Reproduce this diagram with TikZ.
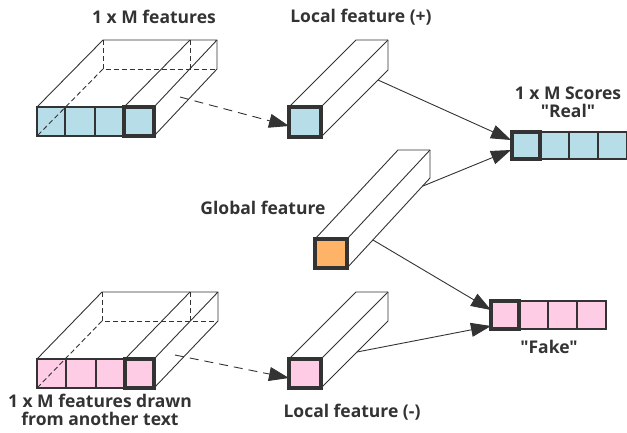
\documentclass[tikz,border=0pt]{standalone}
\usepackage{fontspec}
\setmainfont{Open Sans}
\newfontfamily\lblfont{Open Sans}
\usetikzlibrary{arrows.meta}
\definecolor{ln}{HTML}{333333}
\definecolor{bluef}{HTML}{B7DDE8}
\definecolor{pinkf}{HTML}{FFCCE6}
\definecolor{orangef}{HTML}{FFB366}
\tikzset{
  thinln/.style={draw=ln, line width=0.9pt, line join=round},
  hidden/.style={draw=ln, line width=0.9pt, dash pattern=on 5pt off 3pt},
  cell/.style={draw=ln, line width=1.1pt, inner sep=0pt, outer sep=0pt, minimum width=#1, minimum height=28pt, anchor=north west},
  cellhi/.style={draw=ln, line width=3.2pt, inner sep=0pt, outer sep=0pt, minimum width=#1, minimum height=28pt, anchor=north west},
  lbl/.style={text=ln, font=\lblfont\bfseries\fontsize{17.5}{18}\selectfont, align=center, inner sep=0pt},
  arr/.style={draw=ln, line width=0.9pt, -{Triangle[length=20pt,width=14pt]}},
  darr/.style={draw=ln, line width=0.9pt, dash pattern=on 9pt off 6pt, -{Triangle[length=20pt,width=14pt]}},
}
\begin{document}
\begin{tikzpicture}[x=1pt,y=-1pt]
\useasboundingbox (0,0) rectangle (627,432);

% ---------- top-left block: 1 x M features ----------
\draw[hidden] (103,40) -- (103,69) -- (217,69);
\draw[hidden] (190,40) -- (190,69);
\draw[thinln] (37,107) -- (103,40) -- (217,40) -- (154,107);
\draw[thinln] (124,107) -- (190,40);
\draw[thinln] (154,136) -- (217,69) -- (217,40);
\node[cell=28pt, fill=bluef, minimum height=29pt] (ta) at (37,107) {};
\node[cell=30pt, fill=bluef, minimum height=29pt] (tb) at (65,107) {};
\node[cell=29pt, fill=bluef, minimum height=29pt] (tc) at (95,107) {};
\node[cellhi=30pt, fill=bluef, minimum height=29pt] (td) at (124,107) {};
\draw[hidden] (103,69) -- (37,136);
\coordinate (tsrc) at (180,97);

% ---------- bottom-left block ----------
\draw[hidden] (102,292) -- (102,321) -- (218,321);
\draw[hidden] (190,292) -- (190,321);
\draw[thinln] (37,359) -- (102,292) -- (218,292) -- (154,359);
\draw[thinln] (125,359) -- (190,292);
\draw[thinln] (154,388) -- (218,321) -- (218,292);
\node[cell=29pt, fill=pinkf, minimum height=29pt] (ba) at (37,359) {};
\node[cell=30pt, fill=pinkf, minimum height=29pt] (bb) at (66,359) {};
\node[cell=29pt, fill=pinkf, minimum height=29pt] (bc) at (96,359) {};
\node[cellhi=29pt, fill=pinkf, minimum height=29pt] (bd) at (125,359) {};
\draw[hidden] (102,321) -- (37,388);
\coordinate (bsrc) at (175,355);

% ---------- local feature (+) ----------
\draw[thinln] (289,107) -- (356,40) -- (388,40) -- (388,70) -- (321,137);
\draw[thinln] (321,107) -- (388,40);
\node[cellhi=32pt, fill=bluef, minimum height=30pt] (lp) at (289,107) {};
\coordinate (lpin) at (289,126);
\coordinate (lpout) at (378,80);

% ---------- local feature (-) ----------
\draw[thinln] (289,359) -- (356,292) -- (388,292) -- (388,321) -- (321,388);
\draw[thinln] (321,359) -- (388,292);
\node[cellhi=32pt, fill=pinkf, minimum height=29pt] (lm) at (289,359) {};
\coordinate (lmin) at (289,378);
\coordinate (lmout) at (357,352);

% ---------- global feature ----------
\draw[thinln] (315,239) -- (398,150) -- (430,150) -- (430,178) -- (347,268);
\draw[thinln] (347,239) -- (430,150);
\node[cellhi=32pt, fill=orangef, minimum height=29pt] (gf) at (315,239) {};
\coordinate (gout1) at (423,186);
\coordinate (gout2) at (373,240);

% ---------- score bars ----------
\node[cell=29pt, fill=bluef, minimum height=27pt] (r2) at (540,132) {};
\node[cell=29pt, fill=bluef, minimum height=27pt] (r3) at (569,132) {};
\node[cell=29pt, fill=bluef, minimum height=27pt] (r4) at (598,132) {};
\node[cellhi=28pt, fill=bluef, minimum height=27pt] (r1) at (512,132) {};
\coordinate (rin1) at (511,140);
\coordinate (rin2) at (511,150);

\node[cell=29pt, fill=pinkf, minimum height=28pt] (f2) at (519,301) {};
\node[cell=29pt, fill=pinkf, minimum height=28pt] (f3) at (548,301) {};
\node[cell=29pt, fill=pinkf, minimum height=28pt] (f4) at (577,301) {};
\node[cellhi=28pt, fill=pinkf, minimum height=28pt] (f1) at (491,301) {};
\coordinate (fin1) at (491,310);
\coordinate (fin2) at (491,326);

% ---------- connectors ----------
\draw[darr] (tsrc) -- (lpin);
\draw[darr] (bsrc) -- (lmin);
\draw[arr] (lpout) -- (rin1);
\draw[arr] (gout1) -- (rin2);
\draw[arr] (gout2) -- (fin1);
\draw[arr] (lmout) -- (fin2);

% ---------- labels ----------
\node[lbl] (t1) at (154,17) {1 x M features};
\node[lbl] (t2) at (361,17) {Local feature (+)};
\node[lbl] (t3) at (568,102) {1 x M Scores\\"Real"};
\node[lbl] (t4) at (263,208) {Global feature};
\node[lbl] (t5) at (549,347) {"Fake"};
\node[lbl] (t6) at (100,410) {1 x M features drawn\\from another text};
\node[lbl] (t7) at (352,412) {Local feature (-)};
\end{tikzpicture}
\end{document}
